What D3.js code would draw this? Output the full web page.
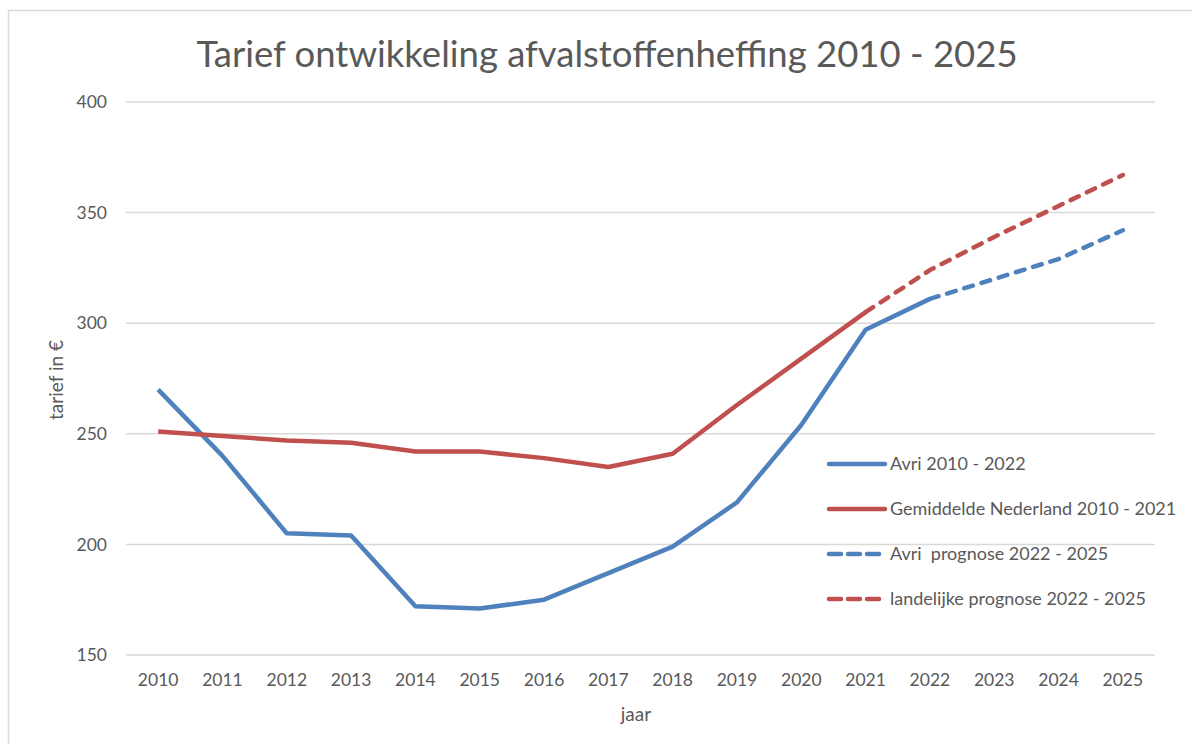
<!DOCTYPE html>
<html>
<head>
<meta charset="utf-8">
<script src="https://cdn.jsdelivr.net/npm/d3@7"></script>
<style>
  body { margin: 0; background: #fff; }
  text { font-family: Lato, "Open Sans", sans-serif; fill: #595959; }
</style>
</head>
<body>
<svg id="chart" width="1192" height="744"></svg>
<script>
// years on the category axis
var years = d3.range(2010, 2026);

// series values (tarief in euro)
var avri = [270, 240, 205, 204, 172, 171, 175, 187, 199, 219, 254, 297, 311];
var avriPrognose = [311, 320, 329, 342];          // 2022 - 2025
var gemiddeld = [251, 249, 247, 246, 242, 242, 239, 235, 241, 263, 284, 305];
var landelijkPrognose = [305, 324, 339, 353, 367]; // 2021 - 2025

var yTicks = [150, 200, 250, 300, 350, 400];

var series = [
    { name: "Avri 2010 - 2022", start: 2010, values: avri, color: "#4F81BD", dash: null },
    { name: "Gemiddelde Nederland 2010 - 2021", start: 2010, values: gemiddeld, color: "#C0504D", dash: null },
    { name: "Avri  prognose 2022 - 2025", start: 2022, values: avriPrognose, color: "#4F81BD", dash: "9,9" },
    { name: "landelijke prognose 2022 - 2025", start: 2021, values: landelijkPrognose, color: "#C0504D", dash: "9,9" }
];

var margin = { top: 102, right: 37, bottom: 89, left: 126 },
    width = 1192 - margin.left - margin.right,
    height = 744 - margin.top - margin.bottom;

var svg = d3.select("#chart");

// chart area border
svg.append("rect")
    .attr("x", 8.5).attr("y", 10.5)
    .attr("width", 1300).attr("height", 900)
    .attr("fill", "none")
    .attr("stroke", "#d9d9d9")
    .attr("stroke-width", 1.5);

svg.append("text")
    .attr("x", 607).attr("y", 67)
    .attr("text-anchor", "middle")
    .style("font-size", "36.5px")
    .text("Tarief ontwikkeling afvalstoffenheffing 2010 - 2025");

var g = svg.append("g")
    .attr("transform", "translate(" + margin.left + "," + margin.top + ")");

var x = d3.scaleBand().domain(years).range([0, width]);
var y = d3.scaleLinear().domain([150, 400]).range([553, 0]);

// gridlines
g.append("g")
    .selectAll("line")
    .data(yTicks)
    .join("line")
    .attr("x1", 0).attr("x2", width)
    .attr("y1", d => y(d)).attr("y2", d => y(d))
    .attr("stroke", "#d9d9d9")
    .attr("stroke-width", 1.5);

var yAxis = g.append("g")
    .call(d3.axisLeft(y).tickValues(yTicks).tickSize(0).tickPadding(19));
yAxis.select(".domain").remove();
yAxis.selectAll("text").style("font-size", "17.5px").attr("fill", "#595959");

var xAxis = g.append("g")
    .attr("transform", "translate(0," + y(150) + ")")
    .call(d3.axisBottom(x).tickSize(0).tickPadding(19));
xAxis.select(".domain").remove();
xAxis.selectAll("text").style("font-size", "17.5px").attr("fill", "#595959");

svg.append("text")
    .attr("x", 636).attr("y", 721)
    .attr("text-anchor", "middle")
    .style("font-size", "19px")
    .text("jaar");

svg.append("text")
    .attr("transform", "translate(63,380) rotate(-90)")
    .attr("text-anchor", "middle")
    .style("font-size", "19px")
    .text("tarief in €");

var line = d3.line()
    .x(d => x(d.year) + x.bandwidth() / 2)
    .y(d => y(d.value));

series.forEach(function (s) {
    var pts = s.values.map((v, i) => ({ year: s.start + i, value: v }));
    g.append("path")
        .datum(pts)
        .attr("d", line)
        .attr("fill", "none")
        .attr("stroke", s.color)
        .attr("stroke-width", 4.5)
        .attr("stroke-linejoin", "round")
        .attr("stroke-linecap", s.dash ? "round" : "butt")
        .attr("stroke-dasharray", s.dash);
});

// legend
var legend = svg.append("g")
    .selectAll("g")
    .data(series)
    .join("g")
    .attr("transform", (d, i) => "translate(829," + (464 + i * 45) + ")");

legend.append("line")
    .attr("x1", 0).attr("x2", 56)
    .attr("stroke", d => d.color)
    .attr("stroke-width", 4.5)
    .attr("stroke-linecap", "round")
    .attr("stroke-dasharray", d => d.dash ? "12,7" : null);

legend.append("text")
    .attr("x", 61).attr("y", 6)
    .style("font-size", "18px")
    .style("white-space", "pre")
    .text(d => d.name);
</script>
</body>
</html>
